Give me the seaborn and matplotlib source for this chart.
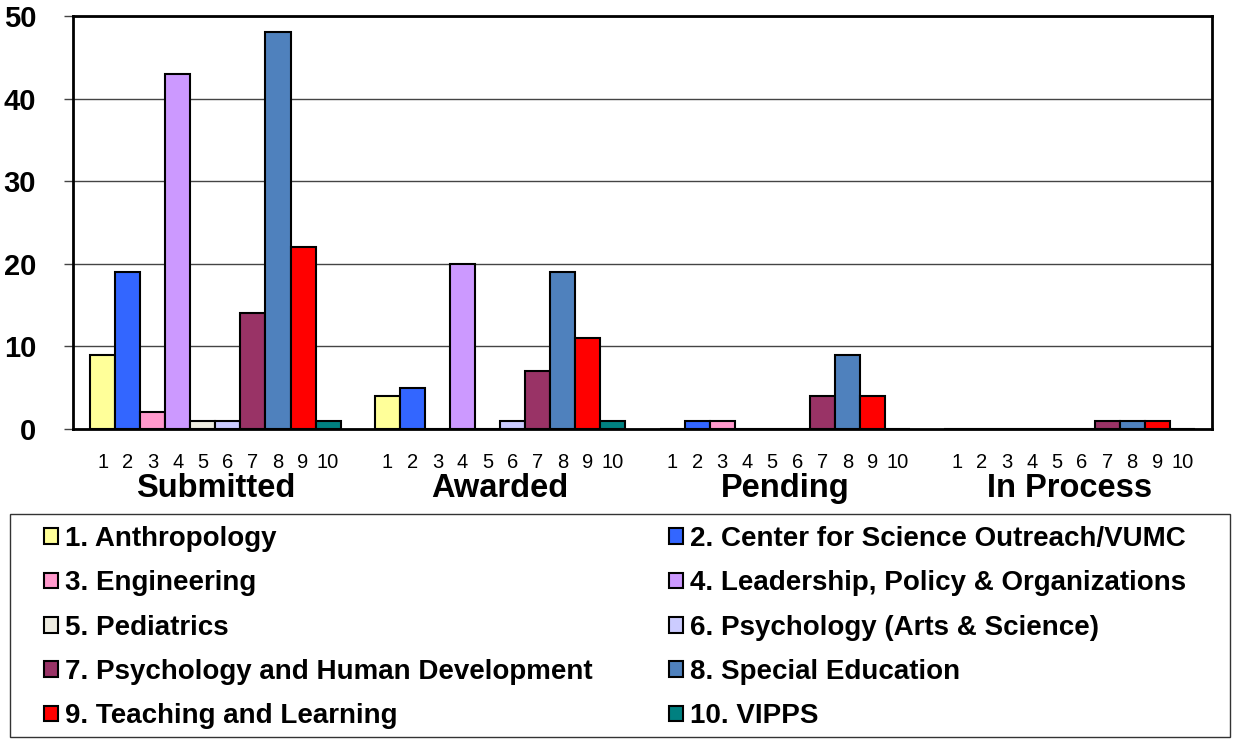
import pandas as pd
import matplotlib.pyplot as plt
import seaborn as sns
from matplotlib.patches import Rectangle

# Data
groups = ["Submitted", "Awarded", "Pending", "In Process"]
departments = [
    "1. Anthropology",
    "2. Center for Science Outreach/VUMC",
    "3. Engineering",
    "4. Leadership, Policy & Organizations",
    "5. Pediatrics",
    "6. Psychology (Arts & Science)",
    "7. Psychology and Human Development",
    "8. Special Education",
    "9. Teaching and Learning",
    "10. VIPPS",
]
submitted = [9, 19, 2, 43, 1, 1, 14, 48, 22, 1]
awarded = [4, 5, 0, 20, 0, 1, 7, 19, 11, 1]
pending = [0, 1, 1, 0, 0, 0, 4, 9, 4, 0]
in_process = [0, 0, 0, 0, 0, 0, 1, 1, 1, 0]
tick_numbers = ["1", "2", "3", "4", "5", "6", "7", "8", "9", "10"]
colors = ["#FFFF99", "#3366FF", "#FF99CC", "#CC99FF", "#EEECE1",
          "#CCCCFF", "#993366", "#4F81BD", "#FF0000", "#008080"]

rows = []
for g, vals in zip(groups, [submitted, awarded, pending, in_process]):
    for d, v in zip(departments, vals):
        rows.append({"Status": g, "Department": d, "Count": v})
df = pd.DataFrame(rows)

sns.set_style("white", {"text.color": "black", "xtick.color": "black",
                        "ytick.color": "black", "axes.labelcolor": "black"})
plt.rcParams["font.family"] = ["Liberation Sans", "DejaVu Sans"]

fig = plt.figure(figsize=(12.43, 7.39), dpi=100)
ax = fig.add_axes([0.0587, 0.4195, 0.9163, 0.5589])

sns.barplot(
    data=df, x="Status", y="Count", hue="Department",
    order=groups, hue_order=departments, palette=colors, saturation=1,
    width=0.88, edgecolor="black", linewidth=1.5, ax=ax,
)
ax.legend_.remove()

ax.set_ylim(0, 50)
ax.set_yticks([0, 10, 20, 30, 40, 50])
ax.yaxis.grid(True, color="#444444", linewidth=1)
ax.set_axisbelow(True)
for s in ax.spines.values():
    s.set_visible(True)
    s.set_color("black")
    s.set_linewidth(2)
ax.tick_params(axis="y", which="major", left=True, length=6.5, width=1,
               color="#444444", labelcolor="black", pad=20, labelsize=21)
for lab in ax.get_yticklabels():
    lab.set_fontweight("bold")
ax.set_ylabel("")
ax.set_xlabel("")

# department numbers under each bar, group names beneath
centers = []
labels = []
for j, cont in enumerate(ax.containers):
    for bar in cont:
        centers.append(bar.get_x() + bar.get_width() / 2)
        labels.append(tick_numbers[j])
ax.set_xticks(centers)
ax.set_xticklabels(labels, fontsize=14.5, color="black")
ax.tick_params(axis="x", bottom=False, pad=14)

for i, g in enumerate(groups):
    ax.text(i, -0.143, g, transform=ax.get_xaxis_transform(), color="black",
            ha="center", va="center", fontsize=23.5, fontweight="bold")

# legend box
fig.patches.append(Rectangle((10 / 1243, 2 / 739), 1220 / 1243, 223 / 739,
                             transform=fig.transFigure, fill=False,
                             edgecolor="#333333", linewidth=1))
handles = [c.patches[0] if hasattr(c, "patches") else c[0] for c in ax.containers]
order = [0, 2, 4, 6, 8, 1, 3, 5, 7, 9]
leg = fig.legend([handles[k] for k in order], [departments[k] for k in order],
                 loc="upper left", bbox_to_anchor=(44 / 1243, 1 - 526 / 739),
                 ncol=2, frameon=False, prop={"weight": "bold", "size": 20},
                 handlelength=0.5, handleheight=0.5, handletextpad=0.25,
                 labelspacing=0.66, columnspacing=2.75, borderaxespad=0,
                 borderpad=0)
for t in leg.get_texts():
    t.set_color("black")

fig.savefig("out.png", dpi=100)
